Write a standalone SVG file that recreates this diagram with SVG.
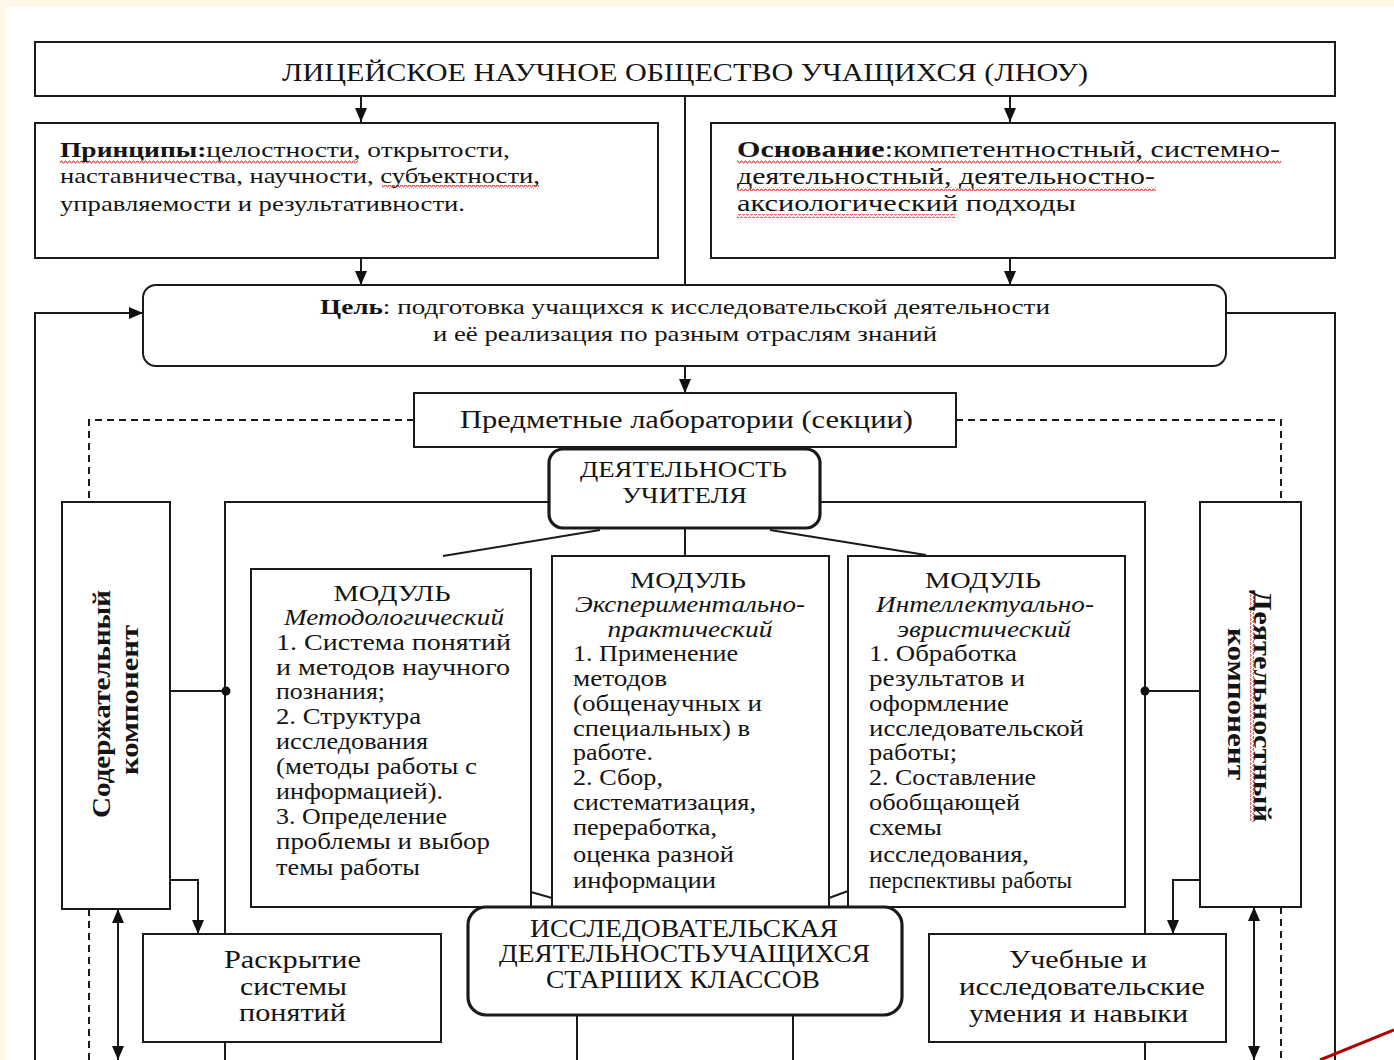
<svg xmlns="http://www.w3.org/2000/svg" width="1394" height="1060" viewBox="0 0 1394 1060">
  <defs>
    <style>
      .box{fill:#fff;stroke:#1a1a1a;stroke-width:2}
      .thick{fill:#fff;stroke:#1a1a1a;stroke-width:3.2}
      .ln{fill:none;stroke:#1a1a1a;stroke-width:2}
      .dash{fill:none;stroke:#1a1a1a;stroke-width:2;stroke-dasharray:7 5}
      .t{font-family:"Liberation Serif","Times New Roman",serif;fill:#141414}
      .c{text-anchor:middle}
      .b{font-weight:bold}
      .i{font-style:italic}
      .s22{font-size:22px}
      .s23{font-size:23px}
      .s24{font-size:24px}
      .s25{font-size:25px}
      .wavy{fill:url(#squiggle)}
    </style>
    <pattern id="squiggle" width="4" height="4" patternUnits="userSpaceOnUse">
      <path d="M0,3 L1,1 L2,1 L3,3 L4,3" fill="none" stroke="#d42020" stroke-width="0.9"/>
    </pattern>
    <pattern id="squiggleV" width="4" height="4" patternUnits="userSpaceOnUse">
      <path d="M3,0 L1,1 L1,2 L3,3 L3,4" fill="none" stroke="#d42020" stroke-width="0.9"/>
    </pattern>
    <marker id="ah" markerUnits="userSpaceOnUse" markerWidth="14" markerHeight="12" viewBox="0 0 14 12" refX="14" refY="6" orient="auto-start-reverse">
      <path d="M0,0 L14,6 L0,12 z" fill="#111"/>
    </marker>
  </defs>

  <!-- page -->
  <rect x="0" y="0" width="1394" height="1060" fill="#fff8e8"/>
  <rect x="6" y="7" width="1388" height="1053" fill="#fff"/>

  <!-- connectors -->
  <g id="connectors">
    <line class="ln" x1="361" y1="96" x2="361" y2="122" marker-end="url(#ah)"/>
    <line class="ln" x1="1010" y1="96" x2="1010" y2="122" marker-end="url(#ah)"/>
    <line class="ln" x1="685" y1="96" x2="685" y2="285"/>
    <line class="ln" x1="361" y1="258" x2="361" y2="285" marker-end="url(#ah)"/>
    <line class="ln" x1="1010" y1="258" x2="1010" y2="285" marker-end="url(#ah)"/>
    <polyline class="ln" points="35,1060 35,313 143,313" marker-end="url(#ah)"/>
    <polyline class="ln" points="1226,313 1335,313 1335,1060"/>
    <line class="ln" x1="685" y1="366" x2="685" y2="393" marker-end="url(#ah)"/>
    <polyline class="dash" points="414,420 89,420 89,502"/>
    <polyline class="dash" points="956,420 1281,420 1281,502"/>
    <!-- frame around the modules -->
    <path class="ln" d="M225,1060 V502 H560 M810,502 H1145 V1060"/>
    <line class="ln" x1="600" y1="530" x2="443" y2="556"/>
    <line class="ln" x1="685" y1="528" x2="685" y2="556"/>
    <line class="ln" x1="770" y1="530" x2="926" y2="555"/>
    <line class="ln" x1="170" y1="691" x2="226" y2="691"/>
    <circle cx="226" cy="691" r="4.5" fill="#111"/>
    <line class="ln" x1="1145" y1="691" x2="1200" y2="691"/>
    <circle cx="1145" cy="691" r="4.5" fill="#111"/>
    <polyline class="ln" points="170,880 198,880 198,934" marker-end="url(#ah)"/>
    <polyline class="ln" points="1200,880 1173,880 1173,934" marker-end="url(#ah)"/>
    <line class="ln" x1="118" y1="909" x2="118" y2="1060" marker-start="url(#ah)" marker-end="url(#ah)"/>
    <line class="ln" x1="1254" y1="907" x2="1254" y2="1060" marker-start="url(#ah)" marker-end="url(#ah)"/>
    <line class="dash" x1="89" y1="909" x2="89" y2="1060"/>
    <line class="dash" x1="1281" y1="907" x2="1281" y2="1060"/>
    <line class="ln" x1="577" y1="1015" x2="577" y2="1060"/>
    <line class="ln" x1="793" y1="1015" x2="793" y2="1060"/>
    <line class="ln" x1="531" y1="892" x2="552" y2="898"/>
    <line class="ln" x1="829" y1="898" x2="848" y2="891"/>
  </g>

  <!-- title -->
  <g id="society">
    <rect class="box" x="35" y="42" width="1300" height="54"/>
    <text class="t s25" x="282" y="81" textLength="806" lengthAdjust="spacingAndGlyphs">ЛИЦЕЙСКОЕ  НАУЧНОЕ  ОБЩЕСТВО  УЧАЩИХСЯ  (ЛНОУ)</text>
  </g>

  <g id="principles">
    <rect class="box" x="35" y="123" width="623" height="135"/>
    <rect class="wavy" x="60" y="160" width="298" height="4"/>
    <rect class="wavy" x="382" y="185" width="157" height="4"/>
    <text class="t s22" x="60" y="157" textLength="450" lengthAdjust="spacingAndGlyphs"><tspan class="b">Принципы:</tspan>целостности, открытости,</text>
    <text class="t s22" x="60" y="183" textLength="480" lengthAdjust="spacingAndGlyphs">наставничества,  научности,  субъектности,</text>
    <text class="t s22" x="60" y="211" textLength="405" lengthAdjust="spacingAndGlyphs">управляемости и результативности.</text>
  </g>

  <g id="basis">
    <rect class="box" x="711" y="123" width="624" height="135"/>
    <rect class="wavy" x="737" y="160" width="544" height="4"/>
    <rect class="wavy" x="737" y="187" width="419" height="4"/>
    <rect class="wavy" x="737" y="214" width="218" height="4"/>
    <text class="t s23" x="737" y="157" textLength="543" lengthAdjust="spacingAndGlyphs"><tspan class="b">Основание</tspan>:компетентностный, системно-</text>
    <text class="t s23" x="737" y="184" textLength="418" lengthAdjust="spacingAndGlyphs">деятельностный, деятельностно-</text>
    <text class="t s23" x="737" y="211" textLength="339" lengthAdjust="spacingAndGlyphs">аксиологический подходы</text>
  </g>

  <g id="goal">
    <rect class="box" x="143" y="285" width="1083" height="81" rx="13"/>
    <text class="t s22" x="320" y="314" textLength="730" lengthAdjust="spacingAndGlyphs"><tspan class="b">Цель</tspan>: подготовка учащихся к исследовательской деятельности</text>
    <text class="t s22" x="433" y="341" textLength="504" lengthAdjust="spacingAndGlyphs">и её реализация  по разным отраслям знаний</text>
  </g>

  <g id="labs">
    <rect class="box" x="414" y="393" width="542" height="54"/>
    <text class="t s25" x="460" y="428" textLength="453" lengthAdjust="spacingAndGlyphs">Предметные лаборатории (секции)</text>
  </g>

  <g id="teacher">
    <rect class="thick" x="549" y="449" width="271" height="79" rx="14"/>
    <text class="t s24" x="580" y="477" textLength="207" lengthAdjust="spacingAndGlyphs">ДЕЯТЕЛЬНОСТЬ</text>
    <text class="t s24" x="622" y="503" textLength="125" lengthAdjust="spacingAndGlyphs">УЧИТЕЛЯ</text>
  </g>

  <g id="content-component">
    <rect class="box" x="62" y="502" width="108" height="407"/>
    <text class="t s25 b c" transform="translate(110,704) rotate(-90)" textLength="228" lengthAdjust="spacingAndGlyphs">Содержательный</text>
    <text class="t s25 b c" transform="translate(138,700) rotate(-90)" textLength="150" lengthAdjust="spacingAndGlyphs">компонент</text>
  </g>

  <g id="activity-component">
    <rect class="box" x="1200" y="502" width="101" height="405"/>
    <rect fill="url(#squiggleV)" x="1250" y="590" width="4" height="232"/>
    <text class="t s25 b c" transform="translate(1254,706) rotate(90)" textLength="232" lengthAdjust="spacingAndGlyphs">Деятельностный</text>
    <text class="t s25 b c" transform="translate(1228,704) rotate(90)" textLength="152" lengthAdjust="spacingAndGlyphs">компонент</text>
  </g>

  <g id="module-methodological">
    <rect class="box" x="251" y="569" width="280" height="338"/>
    <text class="t s24 c" x="392" y="601" textLength="117" lengthAdjust="spacingAndGlyphs">МОДУЛЬ</text>
    <text class="t s23 i c" x="394" y="625" textLength="220" lengthAdjust="spacingAndGlyphs">Методологический</text>
    <g class="t s23">
      <text x="276" y="650" textLength="235" lengthAdjust="spacingAndGlyphs">1. Система  понятий</text>
      <text x="276" y="675" textLength="234" lengthAdjust="spacingAndGlyphs">и методов  научного</text>
      <text x="276" y="699" textLength="109" lengthAdjust="spacingAndGlyphs">познания;</text>
      <text x="276" y="724" textLength="145" lengthAdjust="spacingAndGlyphs">2. Структура</text>
      <text x="276" y="749" textLength="152" lengthAdjust="spacingAndGlyphs">исследования</text>
      <text x="276" y="774" textLength="201" lengthAdjust="spacingAndGlyphs">(методы работы с</text>
      <text x="276" y="799" textLength="167" lengthAdjust="spacingAndGlyphs">информацией).</text>
      <text x="276" y="824" textLength="171" lengthAdjust="spacingAndGlyphs">3. Определение</text>
      <text x="276" y="849" textLength="214" lengthAdjust="spacingAndGlyphs">проблемы и выбор</text>
      <text x="276" y="875" textLength="144" lengthAdjust="spacingAndGlyphs">темы работы</text>
    </g>
  </g>

  <g id="module-experimental">
    <rect class="box" x="552" y="556" width="277" height="351"/>
    <text class="t s24 c" x="688" y="588" textLength="116" lengthAdjust="spacingAndGlyphs">МОДУЛЬ</text>
    <text class="t s23 i c" x="690" y="612" textLength="230" lengthAdjust="spacingAndGlyphs">Экспериментально-</text>
    <text class="t s23 i c" x="690" y="637" textLength="165" lengthAdjust="spacingAndGlyphs">практический</text>
    <g class="t s23">
      <text x="573" y="661" textLength="165" lengthAdjust="spacingAndGlyphs">1. Применение</text>
      <text x="573" y="686" textLength="94" lengthAdjust="spacingAndGlyphs">методов</text>
      <text x="573" y="711" textLength="189" lengthAdjust="spacingAndGlyphs">(общенаучных и</text>
      <text x="573" y="736" textLength="177" lengthAdjust="spacingAndGlyphs">специальных) в</text>
      <text x="573" y="760" textLength="80" lengthAdjust="spacingAndGlyphs">работе.</text>
      <text x="573" y="785" textLength="90" lengthAdjust="spacingAndGlyphs">2. Сбор,</text>
      <text x="573" y="810" textLength="183" lengthAdjust="spacingAndGlyphs">систематизация,</text>
      <text x="573" y="835" textLength="144" lengthAdjust="spacingAndGlyphs">переработка,</text>
      <text x="573" y="862" textLength="161" lengthAdjust="spacingAndGlyphs">оценка разной</text>
      <text x="573" y="888" textLength="143" lengthAdjust="spacingAndGlyphs">информации</text>
    </g>
  </g>

  <g id="module-heuristic">
    <rect class="box" x="848" y="556" width="277" height="351"/>
    <text class="t s24 c" x="983" y="588" textLength="116" lengthAdjust="spacingAndGlyphs">МОДУЛЬ</text>
    <text class="t s23 i c" x="985" y="612" textLength="218" lengthAdjust="spacingAndGlyphs">Интеллектуально-</text>
    <text class="t s23 i c" x="984" y="637" textLength="174" lengthAdjust="spacingAndGlyphs">эвристический</text>
    <g class="t s23">
      <text x="869" y="661" textLength="148" lengthAdjust="spacingAndGlyphs">1. Обработка</text>
      <text x="869" y="686" textLength="156" lengthAdjust="spacingAndGlyphs">результатов и</text>
      <text x="869" y="711" textLength="140" lengthAdjust="spacingAndGlyphs">оформление</text>
      <text x="869" y="736" textLength="215" lengthAdjust="spacingAndGlyphs">исследовательской</text>
      <text x="869" y="760" textLength="88" lengthAdjust="spacingAndGlyphs">работы;</text>
      <text x="869" y="785" textLength="167" lengthAdjust="spacingAndGlyphs">2. Составление</text>
      <text x="869" y="810" textLength="151" lengthAdjust="spacingAndGlyphs">обобщающей</text>
      <text x="869" y="835" textLength="73" lengthAdjust="spacingAndGlyphs">схемы</text>
      <text x="869" y="862" textLength="160" lengthAdjust="spacingAndGlyphs">исследования,</text>
      <text x="869" y="888" textLength="203" lengthAdjust="spacingAndGlyphs">перспективы  работы</text>
    </g>
  </g>

  <g id="student-research">
    <rect class="thick" x="468" y="907" width="434" height="108" rx="18"/>
    <text class="t s25" x="530" y="937" textLength="308" lengthAdjust="spacingAndGlyphs">ИССЛЕДОВАТЕЛЬСКАЯ</text>
    <text class="t s25" x="499" y="962" textLength="371" lengthAdjust="spacingAndGlyphs">ДЕЯТЕЛЬНОСТЬУЧАЩИХСЯ</text>
    <text class="t s25" x="546" y="988" textLength="274" lengthAdjust="spacingAndGlyphs">СТАРШИХ КЛАССОВ</text>
  </g>

  <g id="concepts">
    <rect class="box" x="143" y="934" width="298" height="108"/>
    <text class="t s25" x="224" y="968" textLength="137" lengthAdjust="spacingAndGlyphs">Раскрытие</text>
    <text class="t s25" x="240" y="995" textLength="107" lengthAdjust="spacingAndGlyphs">системы</text>
    <text class="t s25" x="239" y="1021" textLength="107" lengthAdjust="spacingAndGlyphs">понятий</text>
  </g>

  <g id="skills">
    <rect class="box" x="929" y="934" width="297" height="108"/>
    <text class="t s25" x="1009" y="968" textLength="138" lengthAdjust="spacingAndGlyphs">Учебные и</text>
    <text class="t s25" x="959" y="995" textLength="246" lengthAdjust="spacingAndGlyphs">исследовательские</text>
    <text class="t s25" x="969" y="1022" textLength="219" lengthAdjust="spacingAndGlyphs">умения и навыки</text>
  </g>

  <!-- pen stroke across the corner -->
  <line x1="1320" y1="1060" x2="1394" y2="1030" stroke="#b00000" stroke-width="3"/>
</svg>
